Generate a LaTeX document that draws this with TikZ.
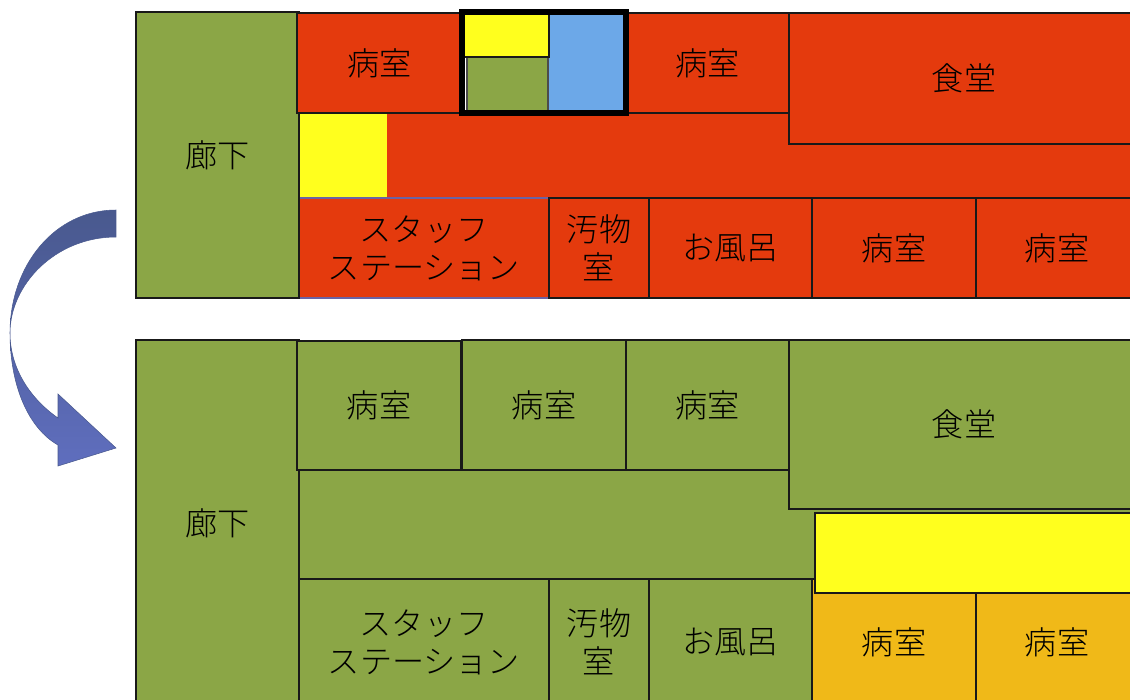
\documentclass[tikz,border=0pt]{standalone}
\usepackage{fontspec}
\setmainfont[UprightFont={* Light}]{Noto Sans CJK JP}
\definecolor{wardgreen}{HTML}{8BA646}
\definecolor{wardred}{HTML}{E43A0D}
\definecolor{wardyellow}{HTML}{FFFF1E}
\definecolor{wardblue}{HTML}{6CA8E8}
\definecolor{wardorange}{HTML}{F0B918}
\definecolor{wardedge}{HTML}{6A63A5}
\definecolor{arrowtop}{HTML}{49598E}
\definecolor{arrowmid}{HTML}{5463A6}
\definecolor{arrowend}{HTML}{5F6EBE}
\tikzset{
  room/.style n args={2}{draw=black!90, line width=1pt, anchor=north west, inner sep=0pt, outer sep=0pt, align=center,
    minimum width=#1*0.02cm, minimum height=#2*0.02cm, font=\fontsize{18.3}{21.6}\selectfont},
  redroom/.style 2 args={room={#1}{#2}, fill=wardred},
  greenroom/.style 2 args={room={#1}{#2}, fill=wardgreen},
  orangeroom/.style 2 args={room={#1}{#2}, fill=wardorange},
  yellowroom/.style 2 args={room={#1}{#2}, fill=wardyellow},
}
\begin{document}
\begin{tikzpicture}[x=0.02cm, y=-0.02cm]
    \useasboundingbox (0,0) rectangle (1130,700);
    %upper floor
    \fill[wardred] (299,113) rectangle (1140,198) node[midway, inner sep=0pt] (hallA) {};
    \node[anchor=north west, fill=wardyellow, inner sep=0pt, outer sep=0pt, minimum width=87*0.02cm, minimum height=84*0.02cm] (spaceA) at (300,113.5) {};
    \node[redroom={163}{100}] (roomC) at (626,13) {病室};
    \node[redroom={350}{131}] (diningA) at (789,13) {食堂};
    \node[redroom={250}{100}, draw=wardedge] (staffA) at (299,198) {スタッフ\\ステーション};
    \node[redroom={100}{100}] (soiledA) at (549,198) {汚物\\室};
    \node[redroom={163}{100}] (bathA) at (649,198) {お風呂};
    \node[redroom={164}{100}] (roomD) at (812,198) {病室};
    \node[redroom={162}{100}] (roomE) at (976,198) {病室};
    \node[greenroom={163}{286}] (corridorA) at (136,12) {廊下};
    \node[redroom={165}{100}] (roomA) at (297,13) {病室};
    %moved room
    \node[room={77}{98}, fill=wardblue, draw=black!70] (blueA) at (548,14) {};
    \node[room={81}{55}, fill=wardgreen, draw=black!70] (greenA) at (467,57) {};
    \node[room={85}{43}, fill=wardyellow] (yellowA) at (464,14) {};
    \node[room={164}{101}, line width=3pt, draw=black] (frameA) at (462,12) {};
    %lower floor
    \node[greenroom={163}{366}] (corridorB) at (136,340) {廊下};
    \node[greenroom={860}{109}] (hallB) at (299,470) {};
    \node[greenroom={164}{129}] (roomF) at (297,341) {病室};
    \node[greenroom={164}{130}] (roomG) at (462,340) {病室};
    \node[greenroom={163}{130}] (roomH) at (626,340) {病室};
    \node[greenroom={350}{169}] (diningB) at (789,340) {食堂};
    \node[greenroom={250}{126}] (staffB) at (299,579) {スタッフ\\ステーション};
    \node[greenroom={100}{126}] (soiledB) at (549,579) {汚物\\室};
    \node[greenroom={163}{126}] (bathB) at (649,579) {お風呂};
    \node[orangeroom={164}{126}] (roomI) at (812,579) {病室};
    \node[orangeroom={162}{126}] (roomJ) at (976,579) {病室};
    \node[yellowroom={330}{80}] (spaceB) at (815,513) {};
    %arrow between floors
    \path[draw=arrowtop, line width=0.3pt, top color=arrowtop, bottom color=arrowend, middle color=arrowmid]
      (116,210) .. controls (55,210) and (10,265) .. (10,333)
      .. controls (10,385) and (28,428) .. (58,445)
      -- (58,466) -- (116,448) -- (58,394) -- (58,418)
      .. controls (32,400) and (10,370) .. (10,333)
      .. controls (10,285) and (55,237) .. (116,237) -- cycle;
  \end{tikzpicture}
\end{document}
